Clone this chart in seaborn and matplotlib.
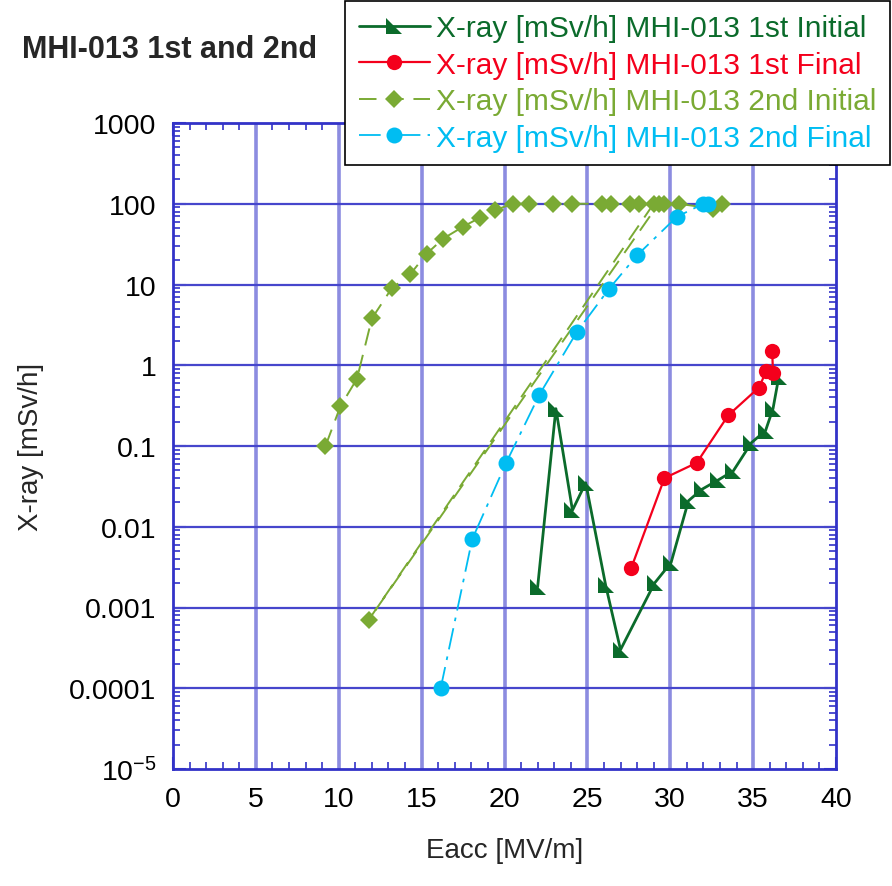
import numpy as np
import pandas as pd
import matplotlib
matplotlib.use("Agg")
import matplotlib.pyplot as plt
import seaborn as sns
from matplotlib.path import Path
from matplotlib.ticker import FixedLocator, FixedFormatter, MultipleLocator, LogLocator, NullFormatter

# ---- data ----
init1_x = [22.0, 23.1, 24.1, 24.9, 26.1, 27.0, 29.05, 30.05, 31.1, 31.9, 32.9, 33.8, 34.9, 35.75, 36.2, 36.55]
init1_y = [0.0018, 0.29, 0.016, 0.035, 0.0019, 0.0003, 0.002, 0.0036, 0.021, 0.029, 0.038, 0.049, 0.11, 0.155, 0.29, 0.72]

final1_x = [27.65, 29.65, 31.6, 33.5, 35.35, 35.8, 36.2, 36.15]
final1_y = [0.0031, 0.040, 0.062, 0.24, 0.53, 0.85, 0.80, 1.5]

init2_x = [9.2, 10.1, 11.1, 12.0, 13.2, 14.3, 15.3, 16.3, 17.5, 18.5, 19.4, 20.5, 21.5, 22.9,
           24.1, 25.9, 26.4, 27.6, 28.1, 29.0, 11.8, 29.3, 29.6, 30.5, 32.6, 33.1]
init2_y = [0.1, 0.31, 0.68, 3.8, 9.0, 13.3, 24, 37, 52, 67, 83, 100, 100, 100,
           100, 100, 100, 100, 100, 100, 0.0007, 100, 100, 100, 87, 100]

final2_x = [16.15, 18.05, 20.1, 22.1, 24.35, 26.3, 28.0, 30.4, 32.0, 32.3]
final2_y = [0.0001, 0.007, 0.062, 0.43, 2.55, 8.8, 23, 69, 100, 100]

labels = ["X-ray [mSv/h] MHI-013 1st Initial",
          "X-ray [mSv/h] MHI-013 1st Final",
          "X-ray [mSv/h] MHI-013 2nd Initial",
          "X-ray [mSv/h] MHI-013 2nd Final"]
colors = ["#0b6b2b", "#f4001c", "#7aaa34", "#00bdf2"]

y_ticks = [1e-5, 1e-4, 1e-3, 1e-2, 1e-1, 1, 10, 100, 1000]
y_ticklabels = ["10$^{-5}$", "0.0001", "0.001", "0.01", "0.1", "1", "10", "100", "1000"]
x_ticks = [0, 5, 10, 15, 20, 25, 30, 35, 40]

title = "MHI-013 1st and 2nd"
xlabel = "Eacc [MV/m]"
ylabel = "X-ray [mSv/h]"

# ---- style ----
sns.set_style("white")
plt.rcParams['font.family'] = ['Liberation Sans', 'DejaVu Sans']
plt.rcParams['mathtext.fontset'] = 'custom'
plt.rcParams['mathtext.rm'] = 'Liberation Sans'
plt.rcParams['mathtext.default'] = 'regular'

fig = plt.figure(figsize=(8.92, 8.87), dpi=100)
ax = fig.add_axes([173/892, 1 - 770/887, (836 - 173)/892, (770 - 124)/887])
ax.set_yscale('log')

tri = Path([(-1, 1), (-1, -1), (1, -1), (-1, 1)],
           [Path.MOVETO, Path.LINETO, Path.LINETO, Path.CLOSEPOLY])

series = [
    (init1_x, init1_y, dict(color=colors[0], marker=tri, markersize=12, linewidth=2.0, linestyle='-')),
    (final1_x, final1_y, dict(color=colors[1], marker='o', markersize=11, linewidth=1.6, linestyle='-')),
    (init2_x, init2_y, dict(color=colors[2], marker='D', markersize=9.5, linewidth=1.4, linestyle=(0, (9, 5)))),
    (final2_x, final2_y, dict(color=colors[3], marker='o', markersize=11.5, linewidth=1.3, linestyle=(0, (12, 4, 2, 4)))),
]

for (xs, ys, kw), lab in zip(series, labels):
    df = pd.DataFrame({"x": xs, "y": ys})
    sns.lineplot(data=df, x="x", y="y", sort=False, estimator=None, ax=ax,
                 label=lab, markeredgewidth=0, zorder=3, **kw)

ax.set_xlim(0, 40)
ax.set_ylim(1e-5, 1000)

blue = "#3232c8"
# grid
for xv in x_ticks[1:-1]:
    ax.axvline(xv, color="#8c8ce0", lw=2.6, zorder=1)
for yv in y_ticks[1:-1]:
    ax.axhline(yv, color="#4646cc", lw=1.6, zorder=1)

for s in ax.spines.values():
    s.set_color(blue)
    s.set_linewidth(2)
    s.set_visible(True)

ax.xaxis.set_major_locator(FixedLocator(x_ticks))
ax.xaxis.set_minor_locator(MultipleLocator(1))
ax.yaxis.set_major_locator(FixedLocator(y_ticks))
ax.yaxis.set_major_formatter(FixedFormatter(y_ticklabels))
ax.yaxis.set_minor_locator(LogLocator(base=10, subs=np.arange(2, 10), numticks=20))
ax.yaxis.set_minor_formatter(NullFormatter())
ax.tick_params(which='both', direction='in', top=True, right=True, bottom=True, left=True, color=blue)
ax.tick_params(which='major', length=9, width=1.5, labelsize=20.5, pad=12, labelcolor='black')
ax.tick_params(which='minor', length=5, width=1.2)

ax.set_xlabel(xlabel, fontsize=20, labelpad=18)
ax.set_ylabel(ylabel, fontsize=20, labelpad=18)

fig.text(22/892, 1 - 50/887, title, fontsize=22, fontweight='bold', ha='left', va='center')

leg = ax.legend(loc='upper right', bbox_to_anchor=(890/892, 1 - 2/887), bbox_transform=fig.transFigure,
                fontsize=21.5, frameon=True, fancybox=False, edgecolor='black', framealpha=1,
                handlelength=2.4, handletextpad=0.2, borderpad=0.45, labelspacing=0.28,
                borderaxespad=0)
leg.get_frame().set_linewidth(1.2)
for txt, c in zip(leg.get_texts(), colors):
    txt.set_color(c)

fig.savefig("out.png", dpi=100)
